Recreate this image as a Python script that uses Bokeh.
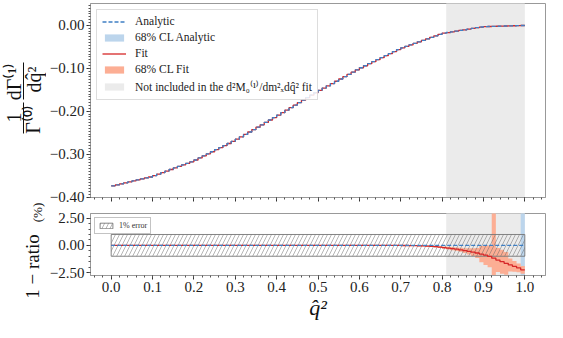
import math
from bokeh.plotting import figure
from bokeh.layouts import column, row
from bokeh.models import (Range1d, SingleIntervalTicker, FixedTicker, CustomJSTickFormatter,
                          Legend, LegendItem)
from bokeh.core.properties import value
from bokeh.embed import file_html
from bokeh.resources import INLINE

# ---------------- data ----------------
bin_edges = [i / 100 for i in range(101)]          # q^2 bins of width 0.01

analytic = [
    -0.3739, -0.3716, -0.3693, -0.3670, -0.3647, -0.3624, -0.3601, -0.3578, -0.3555, -0.3532,
    -0.3502, -0.3466, -0.3430, -0.3394, -0.3358, -0.3322, -0.3286, -0.3250, -0.3214, -0.3178,
    -0.3136, -0.3088, -0.3040, -0.2992, -0.2944, -0.2896, -0.2848, -0.2800, -0.2752, -0.2704,
    -0.2652, -0.2596, -0.2540, -0.2484, -0.2428, -0.2372, -0.2316, -0.2260, -0.2204, -0.2148,
    -0.2091, -0.2033, -0.1975, -0.1917, -0.1859, -0.1801, -0.1743, -0.1685, -0.1627, -0.1569,
    -0.1514, -0.1461, -0.1408, -0.1355, -0.1302, -0.1249, -0.1196, -0.1143, -0.1090, -0.1037,
    -0.0987, -0.0940, -0.0893, -0.0846, -0.0799, -0.0752, -0.0705, -0.0658, -0.0611, -0.0564,
    -0.0523, -0.0488, -0.0453, -0.0418, -0.0383, -0.0348, -0.0313, -0.0278, -0.0243, -0.0208,
    -0.0182, -0.0166, -0.0150, -0.0134, -0.0118, -0.0102, -0.0086, -0.0070, -0.0054, -0.0038,
    -0.0029, -0.0026, -0.0023, -0.0020, -0.0017, -0.0014, -0.0011, -0.0008, -0.0005, -0.0002,
]

# 1 - ratio (%) of the fit, per bin
fit_ratio_pct = [0.0] * 70 + [
    -0.01, -0.01, -0.02, -0.03, -0.04, -0.05, -0.07, -0.09, -0.12, -0.16,
    -0.20, -0.25, -0.30, -0.35, -0.41, -0.48, -0.55, -0.62, -0.70, -0.80,
    -0.90, -1.02, -1.18, -1.35, -1.50, -1.65, -1.80, -1.93, -2.06, -2.25,
]
# 68% CL of the fit, in %, upward / downward
fit_err_up_pct = [0.03] * 75 + [
    0.04, 0.05, 0.06, 0.07, 0.08,
    0.10, 0.12, 0.14, 0.16, 0.18, 0.22, 0.28, 0.35, 0.45, 0.75,
    0.90, 1.00, 5.00, 1.10, 1.10, 1.05, 0.60, 0.50, 0.40, 0.35,
]
fit_err_dn_pct = [0.03] * 75 + [
    0.04, 0.05, 0.06, 0.07, 0.08,
    0.10, 0.12, 0.14, 0.16, 0.18, 0.22, 0.28, 0.35, 0.45, 0.75,
    0.90, 1.00, 1.57, 1.10, 1.10, 1.05, 0.60, 0.50, 0.40, 0.35,
]
# 68% CL of the analytic result, in %
analytic_err_pct = [0.02] * 99 + [6.0]
analytic_ratio_pct = [0.0] * 100

excluded_q = (0.81, 1.0)       # region not included in the fit
error_box_pct = 1.0            # 1% error band
error_box_q = (0.0, 1.0)

y_ticks_ratio = [-2.5, 0.0, 2.5]

# ---------------- derived series ----------------
fit = [a * (1 - r / 100) for a, r in zip(analytic, fit_ratio_pct)]
an_lo = [a * (1 + e / 100) for a, e in zip(analytic, analytic_err_pct)]
an_hi = [a * (1 - e / 100) for a, e in zip(analytic, analytic_err_pct)]
fit_lo = [a * (1 - (r - d) / 100) for a, r, d in zip(analytic, fit_ratio_pct, fit_err_dn_pct)]
fit_hi = [a * (1 - (r + u) / 100) for a, r, u in zip(analytic, fit_ratio_pct, fit_err_up_pct)]
r_fit_lo = [r - d for r, d in zip(fit_ratio_pct, fit_err_dn_pct)]
r_fit_hi = [r + u for r, u in zip(fit_ratio_pct, fit_err_up_pct)]
r_an_lo = [r - e for r, e in zip(analytic_ratio_pct, analytic_err_pct)]
r_an_hi = [r + e for r, e in zip(analytic_ratio_pct, analytic_err_pct)]


def ext(v):
    return list(v) + [v[-1]]


FONT = "Liberation Serif"
BLUE = "#3f7fc4"
BLUE_BAND = "#bcd5ec"
RED = "#d62728"
SALMON = "#fcae94"
GRAY = "#ebebeb"
INK = "#111111"

LEFT_W = 46
TOTAL_W = 547
TOTAL_H = 322
MAIN_W = TOTAL_W - LEFT_W
TOP_H = 207
BOT_H = TOTAL_H - TOP_H

x_range = Range1d(-0.05, 1.05)


def style(p):
    p.xgrid.visible = False
    p.ygrid.visible = False
    p.outline_line_color = "#999999"
    p.background_fill_color = "white"
    p.border_fill_color = "white"
    for ax in (p.xaxis[0], p.yaxis[0]):
        ax.axis_line_color = "#999999"
        ax.major_tick_line_color = "#333333"
        ax.minor_tick_line_color = "#555555"
        ax.major_tick_out = 4
        ax.major_tick_in = 0
        ax.minor_tick_out = 2
        ax.minor_tick_in = 0
        ax.major_label_text_font = FONT
        ax.major_label_text_font_size = "15px"
        ax.major_label_text_color = "#222222"
        ax.major_label_standoff = 2


# ---------------- top panel ----------------
top = figure(width=MAIN_W, height=TOP_H, x_range=x_range, y_range=Range1d(-0.401, 0.051),
             output_backend="svg", toolbar_location=None,
             min_border_left=44, min_border_right=2, min_border_top=3, min_border_bottom=10)
style(top)
top.xaxis[0].ticker = SingleIntervalTicker(interval=0.1, num_minor_ticks=5)
top.xaxis[0].formatter = CustomJSTickFormatter(code="return '';")
top.xaxis[0].major_label_standoff = 0
top.yaxis[0].ticker = SingleIntervalTicker(interval=0.1, num_minor_ticks=15)
top.yaxis[0].formatter = CustomJSTickFormatter(
    code="var v = Math.abs(tick) < 1e-9 ? 0 : tick; return v.toFixed(2).replace('-', '\u2212');")

r_gray = top.quad(left=[excluded_q[0]], right=[excluded_q[1]], bottom=[-1], top=[1],
                  fill_color=GRAY, line_color=None)
r_anb = top.varea_step(x=bin_edges, y1=ext(an_lo), y2=ext(an_hi), step_mode="after",
                       fill_color=BLUE_BAND)
r_fitb = top.varea_step(x=bin_edges, y1=ext(fit_lo), y2=ext(fit_hi), step_mode="after",
                        fill_color=SALMON)
r_fit = top.step(x=bin_edges, y=ext(fit), mode="after", line_color=RED, line_width=1.3)
r_an = top.step(x=bin_edges, y=ext(analytic), mode="after", line_color=BLUE,
                line_width=1.3, line_dash="4 2")

leg = Legend(items=[
    LegendItem(label="Analytic", renderers=[r_an]),
    LegendItem(label="68% CL Analytic", renderers=[r_anb]),
    LegendItem(label="Fit", renderers=[r_fit]),
    LegendItem(label="68% CL Fit", renderers=[r_fitb]),
    LegendItem(label="Not included in the d\u00b2M\u2080\u207d\u00b9\u207e/dm\u00b2\u2093dq\u0302\u00b2 fit",
               renderers=[r_gray]),
], location="top_left")
leg.label_text_font = FONT
leg.label_text_font_size = "11.5px"
leg.label_text_color = "#222222"
leg.glyph_width = 24
leg.glyph_height = 9
leg.label_height = 12
leg.spacing = 4
leg.padding = 5
leg.margin = 6
leg.label_standoff = 9
leg.border_line_color = "#bbbbbb"
leg.background_fill_alpha = 0.85
top.add_layout(leg)

# ---------------- bottom panel ----------------
bot = figure(width=MAIN_W, height=BOT_H, x_range=x_range, y_range=Range1d(-2.77, 2.93),
             output_backend="svg", toolbar_location=None,
             min_border_left=44, min_border_right=2, min_border_top=6, min_border_bottom=44)
style(bot)
bot.xaxis[0].ticker = SingleIntervalTicker(interval=0.1, num_minor_ticks=5)
bot.xaxis[0].formatter = CustomJSTickFormatter(
    code="var v = Math.abs(tick) < 1e-9 ? 0 : tick; return v.toFixed(1);")
bot.xaxis[0].axis_label = "q\u0302\u00b2"
bot.xaxis[0].axis_label_text_font = FONT
bot.xaxis[0].axis_label_text_font_style = "italic"
bot.xaxis[0].axis_label_text_font_size = "22px"
bot.xaxis[0].axis_label_text_color = INK
bot.xaxis[0].axis_label_standoff = 0
bot.yaxis[0].ticker = FixedTicker(ticks=y_ticks_ratio,
                                  minor_ticks=[-2.5 + 0.5 * i for i in range(11)])
bot.yaxis[0].formatter = CustomJSTickFormatter(
    code="var v = Math.abs(tick) < 1e-9 ? 0 : tick; return v.toFixed(2).replace('-', '\u2212');")

bot.quad(left=[excluded_q[0]], right=[excluded_q[1]], bottom=[-10], top=[10],
         fill_color=GRAY, line_color=None)
bot.varea_step(x=bin_edges, y1=ext(r_an_lo), y2=ext(r_an_hi), step_mode="after",
               fill_color=BLUE_BAND)
bot.varea_step(x=bin_edges, y1=ext(r_fit_lo), y2=ext(r_fit_hi), step_mode="after",
               fill_color=SALMON)
r_box = bot.quad(left=[error_box_q[0]], right=[error_box_q[1]],
                 bottom=[-error_box_pct], top=[error_box_pct],
                 fill_alpha=0, line_color="#777777", line_width=0.9,
                 hatch_pattern="/", hatch_color="#666666", hatch_alpha=0.8,
                 hatch_scale=8, hatch_weight=0.6)
bot.step(x=bin_edges, y=ext(fit_ratio_pct), mode="after", line_color=RED, line_width=1.3)
bot.step(x=bin_edges, y=ext(analytic_ratio_pct), mode="after", line_color=BLUE,
         line_width=1.3, line_dash="4 2")

leg2 = Legend(items=[LegendItem(label="1% error", renderers=[r_box])], location="top_left")
leg2.label_text_font = FONT
leg2.label_text_font_size = "8px"
leg2.label_text_color = "#333333"
leg2.glyph_width = 16
leg2.glyph_height = 7
leg2.label_height = 8
leg2.padding = 3
leg2.margin = 4
leg2.label_standoff = 5
leg2.border_line_color = "#888888"
bot.add_layout(leg2)

# ---------------- left label strip (y-axis titles) ----------------
lab = figure(width=LEFT_W, height=TOTAL_H, x_range=Range1d(0, LEFT_W), y_range=Range1d(TOTAL_H, 0),
             output_backend="svg", toolbar_location=None, min_border=0,
             x_axis_location=None, y_axis_location=None)
lab.outline_line_color = None
lab.grid.visible = False
lab.background_fill_color = "white"
lab.border_fill_color = "white"

# stacked fraction: 1/Gamma^(0) * dGamma^(1)/dq^2 (positions in strip pixels)
big_texts = ["d\u0393\u207d\u00b9\u207e", "dq\u0302\u00b2", "1", "\u0393\u207d\u2070\u207e"]
big_x = [13, 33, 13, 32]
big_y = [81, 79, 117, 119]
lab.text(x=big_x, y=big_y, text=big_texts, angle=math.pi / 2, text_align="center",
         text_baseline="middle", text_font=value(FONT), text_font_size="20px", text_color=INK)
lab.segment(x0=[23, 23], y0=[62, 102], x1=[23, 23], y1=[99, 133], line_color=INK, line_width=1)

lab.text(x=[32], y=[266], text=["1 \u2212 ratio"], angle=math.pi / 2, text_align="center",
         text_baseline="middle", text_font=value(FONT), text_font_size="19px", text_color=INK)
lab.text(x=[37], y=[212], text=["(%)"], angle=math.pi / 2, text_align="center",
         text_baseline="middle", text_font=value(FONT), text_font_size="13px", text_color=INK)

p = row(lab, column(top, bot, spacing=0), spacing=0)
open("out.html", "w").write(file_html(p, INLINE))
